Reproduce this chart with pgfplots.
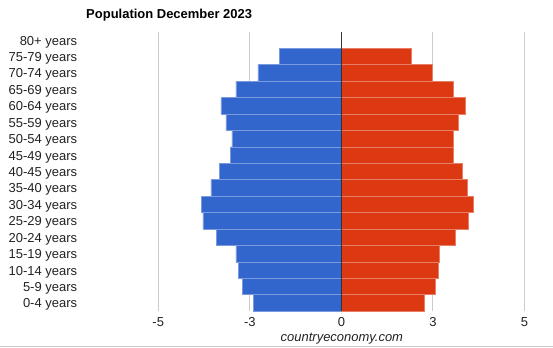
\documentclass[border=0pt]{standalone}
\usepackage{pgfplots}
\pgfplotsset{compat=1.18}
\usepackage{fontspec}
\setmainfont{Liberation Sans}
\definecolor{gblue}{HTML}{3366CC}
\definecolor{gred}{HTML}{DC3912}
\definecolor{gridc}{HTML}{CCCCCC}
\definecolor{txt}{HTML}{222222}
\definecolor{zeroc}{HTML}{333333}
\begin{document}
\begin{tikzpicture}[x=1pt,y=1pt]
\fill[white] (0,0) rectangle (553,348);
\draw[gridc, line width=1pt] (0,0.5) -- (553,0.5);
\begin{axis}[
  at={(158pt,36.3pt)}, anchor=south west,
  width=367pt, height=279.7pt, scale only axis,
  xmin=-5, xmax=5, ymin=-0.5, ymax=16.5, y dir=reverse,
  xtick={-5,-2.5,0,2.5,5}, xticklabels={-5,-3,0,3,5},
  ytick={0,...,16},
  yticklabels={80+ years,75-79 years,70-74 years,65-69 years,60-64 years,55-59 years,50-54 years,45-49 years,40-45 years,35-40 years,30-34 years,25-29 years,20-24 years,15-19 years,10-14 years,5-9 years,0-4 years},
  axis line style={draw=none},
  major tick length=0pt,
  xmajorgrids, grid style={gridc, line width=1pt},
  xticklabel style={anchor=base, yshift=-15pt, font=\fontsize{13}{15}\selectfont, text=txt},
  yticklabel style={anchor=east, xshift=-77.7pt, yshift=-1.8pt, font=\fontsize{13}{15}\selectfont, text=txt},
  clip=false,
]
\addplot[xbar, bar width=16.45pt, bar shift=0pt, fill=gblue, draw=gblue!65!white, line width=0.7pt] coordinates {
(-1.70,1) (-2.28,2) (-2.88,3) (-3.29,4) (-3.15,5) (-2.99,6) (-3.04,7) (-3.34,8)
(-3.56,9) (-3.81,10) (-3.78,11) (-3.40,12) (-2.88,13) (-2.80,14) (-2.71,15) (-2.39,16)};
\addplot[xbar, bar width=16.45pt, bar shift=0pt, fill=gred, draw=gred!65!white, line width=0.7pt] coordinates {
(1.90,1) (2.48,2) (3.05,3) (3.38,4) (3.19,5) (3.05,6) (3.05,7) (3.30,8)
(3.43,9) (3.60,10) (3.46,11) (3.11,12) (2.67,13) (2.64,14) (2.56,15) (2.26,16)};
\draw[zeroc, line width=1.2pt] (axis cs:0,-0.5) -- (axis cs:0,16.5);
\end{axis}
\node[anchor=base west, inner sep=0pt, font=\fontsize{13}{15}\selectfont\bfseries, text=black] at (85.7,329.3) {Population December 2023};
\node[anchor=base, inner sep=0pt, font=\fontsize{13}{15}\selectfont\itshape, text=txt] at (342,6.3) {countryeconomy.com};
\end{tikzpicture}
\end{document}
